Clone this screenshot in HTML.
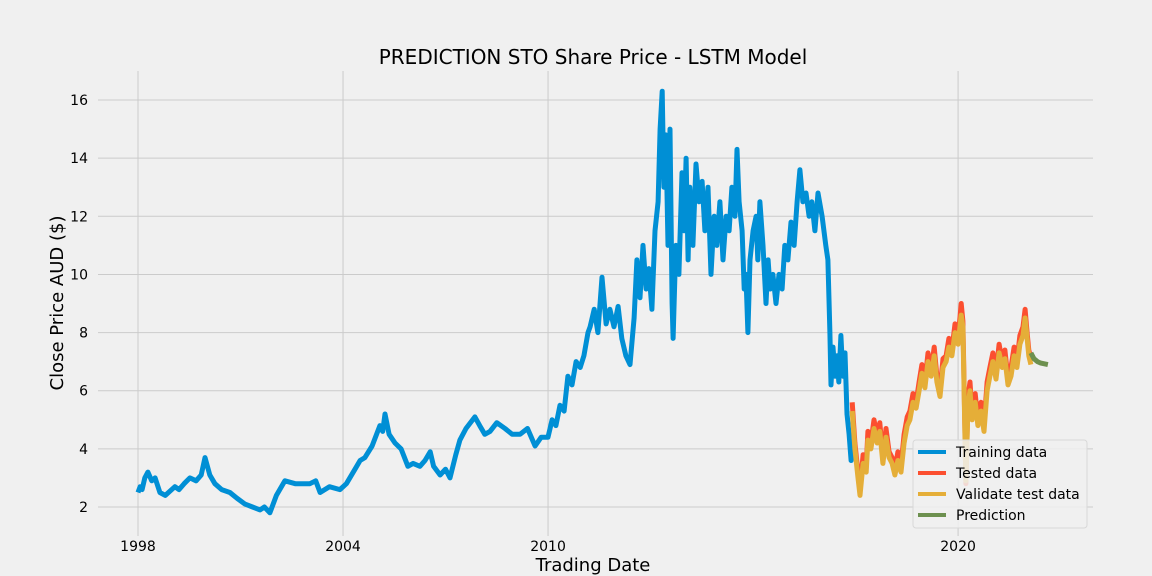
<!DOCTYPE html>
<html><head><meta charset="utf-8"><style>
html,body{margin:0;padding:0;background:#f0f0f0;}
svg{display:block;font-family:"DejaVu Sans","Liberation Sans",sans-serif;}
</style></head><body>
<svg id="chart" width="1152" height="576" viewBox="0 0 1152 576" xmlns="http://www.w3.org/2000/svg">
<rect x="0" y="0" width="1152" height="576" fill="#f0f0f0"/>
<g id="grid"></g>
<g id="series"></g>
<g id="ticks"></g>
<text x="593" y="64" text-anchor="middle" font-size="20" fill="#000">PREDICTION STO Share Price - LSTM Model</text>
<text x="593" y="571" text-anchor="middle" font-size="18" fill="#000">Trading Date</text>
<text transform="translate(63,303) rotate(-90)" text-anchor="middle" font-size="18" fill="#000">Close Price AUD ($)</text>
<g id="legend">
<rect x="913" y="440" width="174" height="88" rx="3" fill="#f0f0f0" fill-opacity="0.85" stroke="#d8d8d8"/>
<line x1="918" y1="452" x2="946" y2="452" stroke="#008fd5" stroke-width="4"/>
<text x="956" y="457" font-size="14">Training data</text>
<line x1="918" y1="473" x2="946" y2="473" stroke="#fc4f30" stroke-width="4"/>
<text x="956" y="478" font-size="14">Tested data</text>
<line x1="918" y1="494" x2="946" y2="494" stroke="#e5ae38" stroke-width="4"/>
<text x="956" y="499" font-size="14">Validate test data</text>
<line x1="918" y1="515" x2="946" y2="515" stroke="#6d904f" stroke-width="4"/>
<text x="956" y="520" font-size="14">Prediction</text>
</g>
</svg>
<script>
const yTicks = [2,4,6,8,10,12,14,16];
const xTickPos = [1998,2004,2010,2022];
const xTickLabels = ['1998','2004','2010','2020'];

const trainX = [1998.00,1998.06,1998.12,1998.20,1998.29,1998.40,1998.50,1998.64,1998.80,1999.08,1999.20,1999.35,1999.52,1999.70,1999.85,1999.96,2000.10,2000.25,2000.45,2000.69,2000.90,2001.13,2001.35,2001.57,2001.70,2001.86,2002.05,2002.30,2002.60,2003.03,2003.20,2003.33,2003.60,2003.91,2004.10,2004.35,2004.50,2004.64,2004.85,2005.08,2005.16,2005.23,2005.35,2005.52,2005.70,2005.90,2006.05,2006.25,2006.40,2006.55,2006.65,2006.84,2007.00,2007.13,2007.30,2007.42,2007.60,2007.86,2008.00,2008.15,2008.30,2008.50,2008.74,2008.95,2009.18,2009.40,2009.62,2009.80,
2010.00,2010.12,2010.23,2010.35,2010.47,2010.58,2010.70,2010.82,2010.94,2011.05,2011.17,2011.23,2011.35,2011.46,2011.58,2011.70,2011.81,2011.93,2012.05,2012.16,2012.28,2012.40,2012.52,2012.60,2012.69,2012.78,2012.87,2012.95,2013.04,2013.13,2013.22,2013.28,2013.34,2013.39,2013.45,2013.51,2013.57,2013.63,2013.66,2013.74,2013.83,2013.92,2013.98,2014.04,2014.10,2014.15,2014.24,2014.33,2014.42,2014.51,2014.59,2014.68,2014.77,2014.86,2014.94,2015.03,2015.12,2015.21,2015.30,2015.38,2015.47,2015.53,2015.59,2015.68,2015.74,2015.79,2015.85,2015.91,2016.00,2016.09,2016.14,2016.20,2016.29,2016.38,2016.44,2016.50,2016.58,2016.67,2016.76,2016.85,2016.93,2017.02,2017.11,2017.20,2017.29,2017.37,2017.46,2017.55,2017.64,2017.72,2017.81,2017.90,2018.02,2018.13,2018.19,2018.25,2018.28,2018.34,2018.40,2018.46,2018.51,2018.57,2018.63,2018.69,2018.75,2018.81,2018.87,2018.93];
const trainY = [2.5,2.7,2.6,3.0,3.2,2.9,3.0,2.5,2.4,2.7,2.6,2.8,3.0,2.9,3.1,3.7,3.1,2.8,2.6,2.5,2.3,2.1,2.0,1.9,2.0,1.8,2.4,2.9,2.8,2.8,2.9,2.5,2.7,2.6,2.8,3.3,3.6,3.7,4.1,4.8,4.6,5.2,4.5,4.2,4.0,3.4,3.5,3.4,3.6,3.9,3.4,3.1,3.3,3.0,3.8,4.3,4.7,5.1,4.8,4.5,4.6,4.9,4.7,4.5,4.5,4.7,4.1,4.4,
4.4,5.0,4.8,5.5,5.3,6.5,6.2,7.0,6.8,7.2,8.0,8.2,8.8,8.0,9.9,8.3,8.8,8.2,8.9,7.8,7.2,6.9,8.5,10.5,9.2,11.0,9.5,10.2,8.8,11.5,12.5,15.0,16.3,13.0,14.8,11.0,15.0,9.0,7.8,11.0,10.0,13.5,11.5,14.0,10.5,13.0,11.0,13.8,12.5,13.2,11.5,13.0,10.0,12.0,11.0,12.5,10.5,12.0,11.5,13.0,12.0,14.3,12.5,11.5,9.5,10.0,8.0,10.5,11.5,12.0,10.5,12.5,11.0,9.0,10.5,9.5,10.0,9.0,10.0,9.5,11.0,10.5,11.8,11.0,12.5,13.6,12.5,12.8,12.0,12.5,11.5,12.8,12.0,11.0,10.5,8.0,6.2,7.5,6.5,7.2,6.3,7.9,6.5,7.3,5.2,4.5,3.6,4.3];

const testX = [2018.90,2018.98,2019.07,2019.13,2019.22,2019.31,2019.36,2019.45,2019.54,2019.63,2019.71,2019.80,2019.89,2019.98,2020.07,2020.15,2020.24,2020.33,2020.42,2020.51,2020.59,2020.68,2020.77,2020.86,2020.94,2021.03,2021.12,2021.21,2021.30,2021.38,2021.47,2021.56,2021.65,2021.73,2021.82,2021.91,2022.00,2022.09,2022.14,2022.20,2022.23,2022.29,2022.35,2022.41,2022.50,2022.58,2022.67,2022.76,2022.85,2022.93,2023.02,2023.11,2023.20,2023.29,2023.37,2023.46,2023.55,2023.64,2023.72,2023.81,2023.90,2023.96,2024.02,2024.07,2024.13];
const validY = [5.3,4.0,3.0,2.4,3.5,3.2,4.3,4.0,4.7,4.2,4.6,3.5,4.4,3.7,3.5,3.1,3.6,3.2,4.2,4.8,5.0,5.6,5.4,6.0,6.6,6.1,7.0,6.5,7.2,6.3,5.8,6.8,7.0,7.5,7.2,8.0,7.6,8.6,8.2,4.5,2.9,5.5,6.0,5.0,5.6,4.8,5.3,4.6,6.0,6.5,7.0,6.4,7.3,6.8,7.1,6.2,6.5,7.2,6.8,7.6,7.9,8.5,7.8,7.2,6.9];
const testedY = [5.6,4.2,3.2,2.6,3.8,3.4,4.6,4.2,5.0,4.4,4.9,3.7,4.7,3.9,3.7,3.3,3.9,3.4,4.5,5.1,5.3,5.9,5.6,6.3,6.9,6.3,7.3,6.7,7.5,6.5,6.0,7.1,7.2,7.8,7.4,8.3,7.8,9.0,8.4,4.7,2.8,5.8,6.3,5.2,5.9,5.0,5.6,4.8,6.3,6.8,7.3,6.6,7.6,7.0,7.4,6.4,6.8,7.5,7.0,7.9,8.2,8.8,8.0,7.4,7.1];

const predX = [2024.13,2024.22,2024.32,2024.42,2024.63];
const predY = [7.3,7.1,7.0,6.95,6.9];

const NS = 'http://www.w3.org/2000/svg';
function xs(v){ return 138 + (v-1998)*34.17; }
function ys(v){ return 507 - (v-2)*29.07; }
const grid = document.getElementById('grid');
const ticks = document.getElementById('ticks');
const series = document.getElementById('series');

yTicks.forEach(t=>{
  const l = document.createElementNS(NS,'line');
  l.setAttribute('x1',98); l.setAttribute('x2',1093);
  l.setAttribute('y1',ys(t)); l.setAttribute('y2',ys(t));
  l.setAttribute('stroke','#cbcbcb'); l.setAttribute('stroke-width','1');
  
  
  grid.appendChild(l);
  const tx = document.createElementNS(NS,'text');
  tx.setAttribute('x',88); tx.setAttribute('y',ys(t)+5);
  tx.setAttribute('text-anchor','end'); tx.setAttribute('font-size','14');
  tx.textContent = t;
  
  
  ticks.appendChild(tx);
});
xTickPos.forEach((t,i)=>{
  const l = document.createElementNS(NS,'line');
  l.setAttribute('x1',xs(t)); l.setAttribute('x2',xs(t));
  l.setAttribute('y1',71); l.setAttribute('y2',536);
  l.setAttribute('stroke','#cbcbcb'); l.setAttribute('stroke-width','1');
  
  
  grid.appendChild(l);
  const tx = document.createElementNS(NS,'text');
  tx.setAttribute('x',xs(t)); tx.setAttribute('y',551);
  tx.setAttribute('text-anchor','middle'); tx.setAttribute('font-size','14');
  tx.textContent = xTickLabels[i];
  
  
  ticks.appendChild(tx);
});
function line(xa, ya, color, name){
  const p = document.createElementNS(NS,'polyline');
  p.setAttribute('points', xa.map((x,i)=>xs(x).toFixed(1)+','+ys(ya[i]).toFixed(1)).join(' '));
  p.setAttribute('fill','none'); p.setAttribute('stroke',color);
  p.setAttribute('stroke-width','5'); p.setAttribute('stroke-linejoin','round');
  
  
  series.appendChild(p);
}
line(trainX, trainY, '#008fd5', 'training-line');
line(testX, testedY, '#fc4f30', 'tested-line');
line(testX, validY, '#e5ae38', 'validate-line');
line(predX, predY, '#6d904f', 'prediction-line');
</script>
</body></html>
